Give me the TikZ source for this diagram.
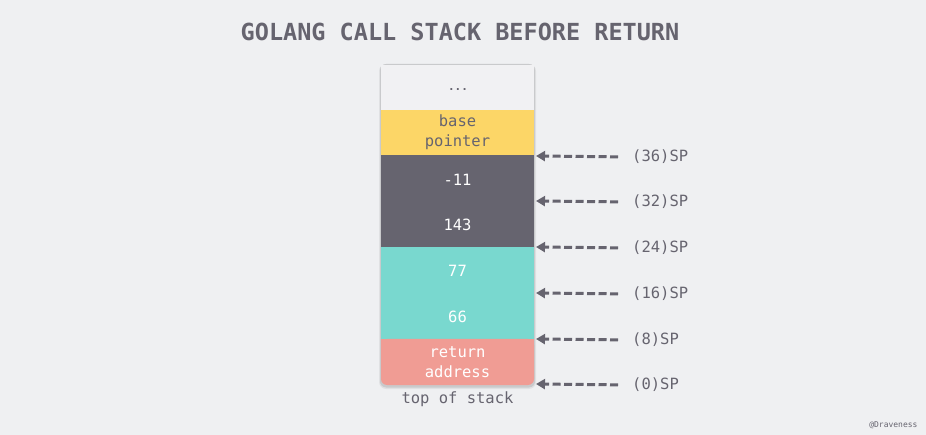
\documentclass[tikz,border=0pt]{standalone}
\usepackage{fontspec}
\setmonofont{DejaVu Sans Mono}
\usetikzlibrary{arrows.meta,shadows}
\definecolor{bg}{HTML}{EFF0F2}
\definecolor{ink}{HTML}{66646F}
\definecolor{ybase}{HTML}{FCD667}
\definecolor{dgray}{HTML}{66646F}
\definecolor{teal}{HTML}{79D8CF}
\definecolor{salmon}{HTML}{F09C94}
\definecolor{top}{HTML}{F1F1F3}
\tikzset{
  seg/.style={minimum width=153pt, inner sep=0pt, outer sep=0pt, anchor=north west, align=center, font=\ttfamily\fontsize{15.5}{20}\selectfont},
  val/.style={font=\ttfamily\fontsize{15.5}{20}\selectfont, text=white},
  lab/.style={anchor=west, font=\ttfamily\fontsize{15.5}{16}\selectfont, text=ink, inner sep=0pt},
  arr/.style={draw=ink, line width=3pt, dash pattern=on 8pt off 3.5pt, -{Triangle[length=9pt,width=10pt]}, shorten <=14pt}
}
\begin{document}
\begin{tikzpicture}[x=1pt,y=-1pt]
\fill[bg] (0,0) rectangle (926,435);
\useasboundingbox (0,0) rectangle (926,435);
\node[font=\ttfamily\bfseries\fontsize{23.5}{26}\selectfont, text=ink] (title) at (460,32) {GOLANG CALL STACK BEFORE RETURN};
% shadow
\fill[black, opacity=0.10, rounded corners=6pt] (380,64) rectangle (535,387.5);
\fill[black, opacity=0.06, rounded corners=7pt] (379,64) rectangle (536,389);
% segments
\node[seg, fill=top, minimum height=45pt, text=ink] (dots) at (381,65) {};
\node[font=\ttfamily\bfseries\fontsize{11}{12}\selectfont, text=ink] (ell) at (458,90) {...};
\node[seg, fill=ybase, minimum height=45pt, text=ink] (bp) at (381,110) {base\\pointer};
\node[seg, fill=dgray, minimum height=92pt] (dark) at (381,155) {};
\node[seg, fill=teal, minimum height=92pt] (tealseg) at (381,247) {};
\fill[salmon, rounded corners=6pt] (381,339) rectangle (534,385);
\fill[salmon] (381,339) rectangle (534,360);
\node[seg, minimum height=46pt, text=white] (ra) at (381,339) {return\\address};
\node[val] (v11) at (457.5,180) {-11};
\node[val] (v143) at (457.5,225) {143};
\node[val] (v77) at (457.5,271) {77};
\node[val] (v66) at (457.5,317) {66};
\node[font=\ttfamily\fontsize{15.5}{16}\selectfont, text=ink] (tos) at (457.5,399) {top of stack};
% arrow targets
\coordinate (c36) at (536,156);
\coordinate (c32) at (536,201);
\coordinate (c24) at (536,247);
\coordinate (c16) at (536,293);
\coordinate (c8) at (536,339);
\coordinate (c0) at (536,384);
\node[lab] (l36) at (632,157) {(36)SP};
\node[lab] (l32) at (632,202) {(32)SP};
\node[lab] (l24) at (632,248) {(24)SP};
\node[lab] (l16) at (632,294) {(16)SP};
\node[lab] (l8) at (632,340) {(8)SP};
\node[lab] (l0) at (632,385) {(0)SP};
\foreach \n in {36,32,24,16,8,0} \draw[arr] (l\n.west) -- (c\n);
\node[font=\ttfamily\fontsize{8}{9}\selectfont, text=ink, anchor=east] (wm) at (921,425) {@Draveness};
\end{tikzpicture}
\end{document}
